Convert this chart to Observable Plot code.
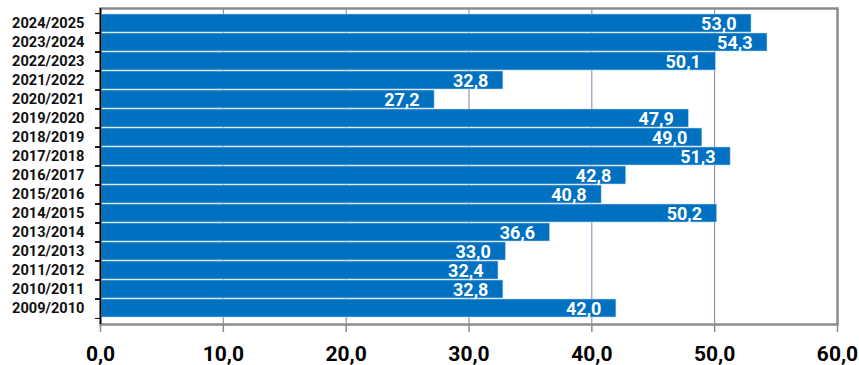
<!DOCTYPE html>
<html>
<head>
<meta charset="utf-8">
<script src="https://cdn.jsdelivr.net/npm/d3@7"></script>
<script src="https://cdn.jsdelivr.net/npm/@observablehq/plot@0.6"></script>
<style>
  html, body { margin: 0; padding: 0; background: #fff; }
  #chart svg { display: block; }
</style>
</head>
<body>
<div id="chart"></div>
<script>
// Seasons, listed from top to bottom
const seasons = [
  "2024/2025", "2023/2024", "2022/2023", "2021/2022", "2020/2021",
  "2019/2020", "2018/2019", "2017/2018", "2016/2017", "2015/2016",
  "2014/2015", "2013/2014", "2012/2013", "2011/2012", "2010/2011",
  "2009/2010"
];
const values = [
  53.0, 54.3, 50.1, 32.8, 27.2,
  47.9, 49.0, 51.3, 42.8, 40.8,
  50.2, 36.6, 33.0, 32.4, 32.8,
  42.0
];
const xTicks = [0, 10, 20, 30, 40, 50, 60];
const gridTicks = [10, 20, 30, 40, 50];

const data = seasons.map((season, i) => ({season, value: values[i]}));
const fmt = v => v.toFixed(1).replace(".", ",");

const width = 859, height = 365;
const marginTop = 8, marginBottom = 41, marginLeft = 100, marginRight = 22;
const step = (height - marginTop - marginBottom) / seasons.length;

const chart = Plot.plot({
  width, height, marginTop, marginBottom, marginLeft, marginRight,
  style: {fontFamily: "Roboto, sans-serif", background: "#fff", color: "#000"},
  x: {domain: [0, 60]},
  y: {domain: seasons, padding: 0.05},
  marks: [
    Plot.ruleX(gridTicks, {stroke: "#8a7aa6", strokeWidth: 1}),
    Plot.barX(data, {
      y: "season", x: "value",
      fill: "#0070C0", stroke: "#b8d3ee", strokeWidth: 0.6
    }),
    Plot.text(data, {
      y: "season", x: "value", text: d => fmt(d.value),
      textAnchor: "end", dx: -15, dy: 1,
      fill: "#fff", fontWeight: "bold", fontSize: 18
    }),
    Plot.frame({stroke: "#8c8c8c", strokeWidth: 2.5}),
    // x axis: gray ticks below the frame, bold labels
    Plot.axisX({
      ticks: xTicks, tickFormat: fmt, tickSize: 8, tickPadding: 14,
      stroke: "#8c8c8c", strokeWidth: 1.5,
      fill: "#000", fontSize: 21, fontWeight: "bold", label: null
    }),
    // y axis labels
    Plot.axisY({
      tickSize: 0, tickPadding: 16, fontSize: 14.6, fontWeight: "bold",
      fill: "#111", label: null
    }),
    // y axis ticks between the bands
    Plot.axisY({tickSize: 5, text: null, dy: step / 2, stroke: "#000", label: null}),
    Plot.axisY({tickSize: 5, text: null, dy: -step / 2, stroke: "#000", label: null}),
    Plot.ruleX([0], {stroke: "#000", strokeWidth: 1.5})
  ]
});

document.getElementById("chart").appendChild(chart);
</script>
</body>
</html>
